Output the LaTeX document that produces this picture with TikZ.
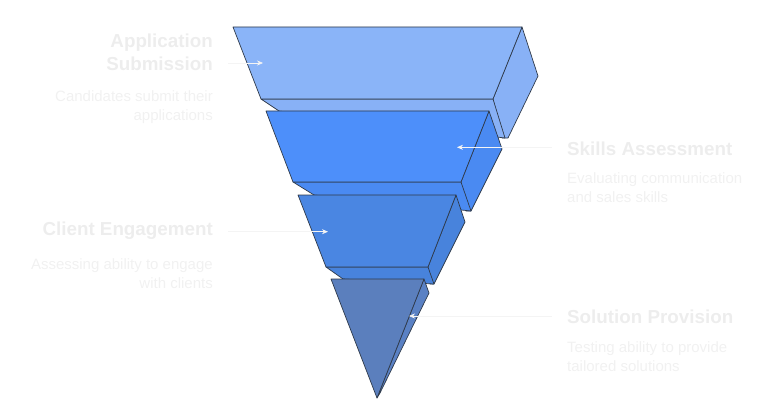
\documentclass[tikz,border=0pt]{standalone}
\usepackage{fontspec}
\setmainfont{Liberation Sans}
\usepackage{tikz}
\usetikzlibrary{arrows.meta}

\definecolor{edgegray}{HTML}{2F3A4A}
\definecolor{levelA}{HTML}{8AB4F8}
\definecolor{levelAside}{HTML}{88B1F6}
\definecolor{levelB}{HTML}{4D8FFA}
\definecolor{levelBside}{HTML}{4A8AF2}
\definecolor{levelC}{HTML}{4A86E2}
\definecolor{levelCside}{HTML}{4883DC}
\definecolor{levelD}{HTML}{5B7FBD}
\definecolor{levelDside}{HTML}{5A81C4}
\definecolor{titlegray}{HTML}{EDEDED}
\definecolor{notegray}{HTML}{F1F1F1}
\definecolor{pointerwhite}{HTML}{F4F4F4}

\begin{document}
\begin{tikzpicture}[x=1pt, y=-1pt,
		face/.style={draw=edgegray, line width=0.7pt, line join=round},
		title/.style={inner sep=0pt, text=titlegray, font=\bfseries\fontsize{18.8}{23}\selectfont},
		note/.style={inner sep=0pt, text=notegray, font=\fontsize{15}{19}\selectfont},
		pointer/.style={draw=pointerwhite, line width=0.6pt, -{Stealth[length=6pt, width=5pt]}}]
	\useasboundingbox (0,0) rectangle (780,420);

	\filldraw[face, fill=levelAside] (522,27) -- (538,76) -- (508,138) -- (502,138) -- (493,99) -- cycle;
	\filldraw[face, fill=levelAside] (261,99) -- (493,99) -- (505,138) -- (279,111) -- cycle;
	\filldraw[face, fill=levelA] (233,27) -- (522,27) -- (493,99) -- (261,99) -- cycle;

	\filldraw[face, fill=levelBside] (489,111) -- (502,149) -- (471,211) -- (466,211) -- (461,182) -- cycle;
	\filldraw[face, fill=levelBside] (293,182) -- (461,182) -- (471,211) -- (314,195) -- cycle;
	\filldraw[face, fill=levelB] (266,111) -- (489,111) -- (461,182) -- (293,182) -- cycle;

	\filldraw[face, fill=levelCside] (456,195) -- (465,222) -- (434,284) -- (430,284) -- (428,267) -- cycle;
	\filldraw[face, fill=levelCside] (326,267) -- (428,267) -- (434,284) -- (343,279) -- cycle;
	\filldraw[face, fill=levelC] (298,195) -- (456,195) -- (428,267) -- (326,267) -- cycle;

	\filldraw[face, fill=levelDside] (424,279) -- (429,293) -- (380,393) -- (377,398) -- cycle;
	\filldraw[face, fill=levelD] (331,279) -- (424,279) -- (377,398) -- cycle;

	\node[title, align=right, anchor=north east] (submit) at (213,33.8) {Application\\Submission};
	\node[note, align=right, anchor=north east] (submitnote) at (213,90) {Candidates submit their\\applications};

	\node[title, align=left, anchor=north west] (skills) at (567,141.3) {Skills Assessment};
	\node[note, align=left, anchor=north west] (skillsnote) at (567,172.5) {Evaluating communication\\and sales skills};

	\node[title, align=right, anchor=north east] (client) at (213,221.3) {Client Engagement};
	\node[note, align=right, anchor=north east] (clientnote) at (213,258) {Assessing ability to engage\\with clients};

	\node[title, align=left, anchor=north west] (solution) at (567,309.3) {Solution Provision};
	\node[note, align=left, anchor=north west] (solutionnote) at (567,341.5) {Testing ability to provide\\tailored solutions};

	\coordinate (submitfrom) at (228,63);
	\coordinate (submitto) at (263,63);
	\coordinate (skillsfrom) at (552,147.3);
	\coordinate (skillsto) at (457,147.3);
	\coordinate (clientfrom) at (228,231.7);
	\coordinate (clientto) at (328,231.7);
	\coordinate (solutionfrom) at (552,316);
	\coordinate (solutionto) at (409,316);

	\draw[pointer] (submitfrom) -- (submitto);
	\draw[pointer] (skillsfrom) -- (skillsto);
	\draw[pointer] (clientfrom) -- (clientto);
	\draw[pointer] (solutionfrom) -- (solutionto);
\end{tikzpicture}
\end{document}
